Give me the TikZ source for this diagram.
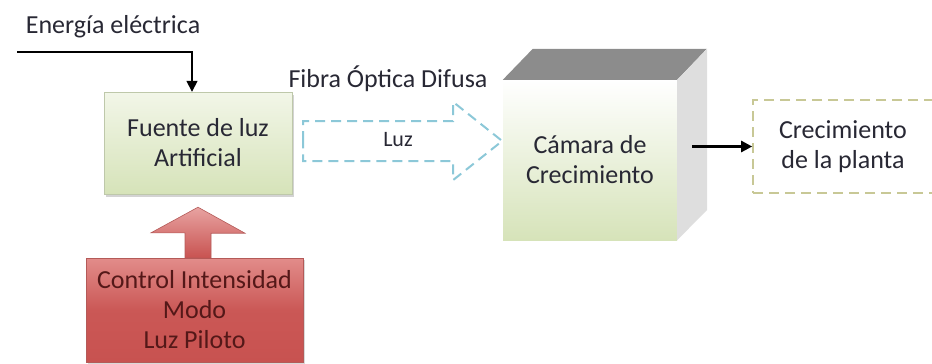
\documentclass[tikz,border=0pt]{standalone}
\usepackage{fontspec}
\setmainfont{Carlito}
\usepackage{tikz}
\usetikzlibrary{arrows.meta,shadows}
\definecolor{txt}{RGB}{40,40,52}
\definecolor{greentop}{RGB}{242,246,232}
\definecolor{greenbot}{RGB}{214,227,185}
\definecolor{greenline}{RGB}{190,200,170}
\definecolor{redtop}{RGB}{226,140,138}
\definecolor{redbot}{RGB}{200,82,80}
\definecolor{redline}{RGB}{180,90,88}
\definecolor{redtxt}{RGB}{84,24,24}
\definecolor{fibra}{RGB}{140,200,216}
\definecolor{planta}{RGB}{200,200,150}
\definecolor{topface}{RGB}{140,140,140}
\definecolor{sideface}{RGB}{222,222,222}

\begin{document}
\begin{tikzpicture}[x=1pt,y=-1pt,
		every node/.style={font=\fontsize{26}{30}\selectfont, text=txt, align=center},
		conn/.style={line width=1.6pt, -{Triangle[length=11pt,width=11pt]}},
		greenbox/.style={draw=greenline, top color=greentop, bottom color=greenbot, drop shadow={shadow xshift=2pt, shadow yshift=-3pt, opacity=0.35}},
		redbox/.style={draw=redline, top color=redtop, bottom color=redbot, middle color=redbot!90!redtop, text=redtxt, drop shadow={shadow xshift=2pt, shadow yshift=-2pt, opacity=0.3}},
		redarrow/.style={draw=redline, line width=0.6pt, top color=redtop!80!white, bottom color=redbot},
		fibraarrow/.style={draw=fibra, line width=2pt, dash pattern=on 10pt off 6pt, fill=white},
		frontface/.style={top color=white, bottom color=greenbot, inner sep=0pt},
		dashbox/.style={draw=planta, line width=1.6pt, dash pattern=on 10pt off 6pt, fill=white}]
	\useasboundingbox (0,0) rectangle (932,364);
	
	\coordinate (ein) at (17,52);
	\node (energia) at (113,27) {Energía eléctrica};
	\node (fibratxt) at (388,79) {Fibra Óptica Difusa};
	
	\node (fuente) at (198,143) [greenbox, minimum width=188pt, minimum height=102pt] {Fuente de luz\\Artificial};
	\node (ctrl) at (194.5,310) [redbox, minimum width=217pt, minimum height=104pt] {Control Intensidad\\Modo\\Luz Piloto};
	\node (camara) at (590,160) [frontface, minimum width=174pt, minimum height=160pt] {Cámara de\\Crecimiento};
	\node (planta) at (843,146.5) [dashbox, minimum width=180pt, minimum height=93pt] {Crecimiento\\de la planta};
	
	\fill[topface] (camara.north west) -- ++(30,-31) -- ++(174,0) -- (camara.north east) -- cycle;
	\fill[sideface] (camara.north east) -- ++(30,-31) -- ++(0,161) -- (camara.south east) -- cycle;
	
	\draw[conn] (ein) -| ([xshift=-6pt]fuente.north);
	\draw[conn, line width=2.4pt] ([xshift=15pt]camara.east |- planta.west) -- (planta.west);
	
	\coordinate (rbase) at (fuente.south |- ctrl.north);
	\coordinate (rtip) at ([yshift=-13pt]fuente.south);
	\shade[redarrow] (rbase) ++(-13,0) -- ++(0,-25) -- ++(-34,0) -- (rtip) -- ++(47,26) -- ++(-34,0) -- ++(0,25) -- cycle;
	
	\coordinate (fstart) at ([shift={(11pt,2pt)}]fuente.east);
	\draw[fibraarrow] (fstart) -- ++(0,-20) -- ++(150,0) -- ++(0,-19) -- ++(49,39) -- ++(-49,39) -- ++(0,-19) -- ++(-150,0) -- cycle;
	\node (luz) at (398,140) [font=\fontsize{22}{26}\selectfont] {Luz};
\end{tikzpicture}
\end{document}
